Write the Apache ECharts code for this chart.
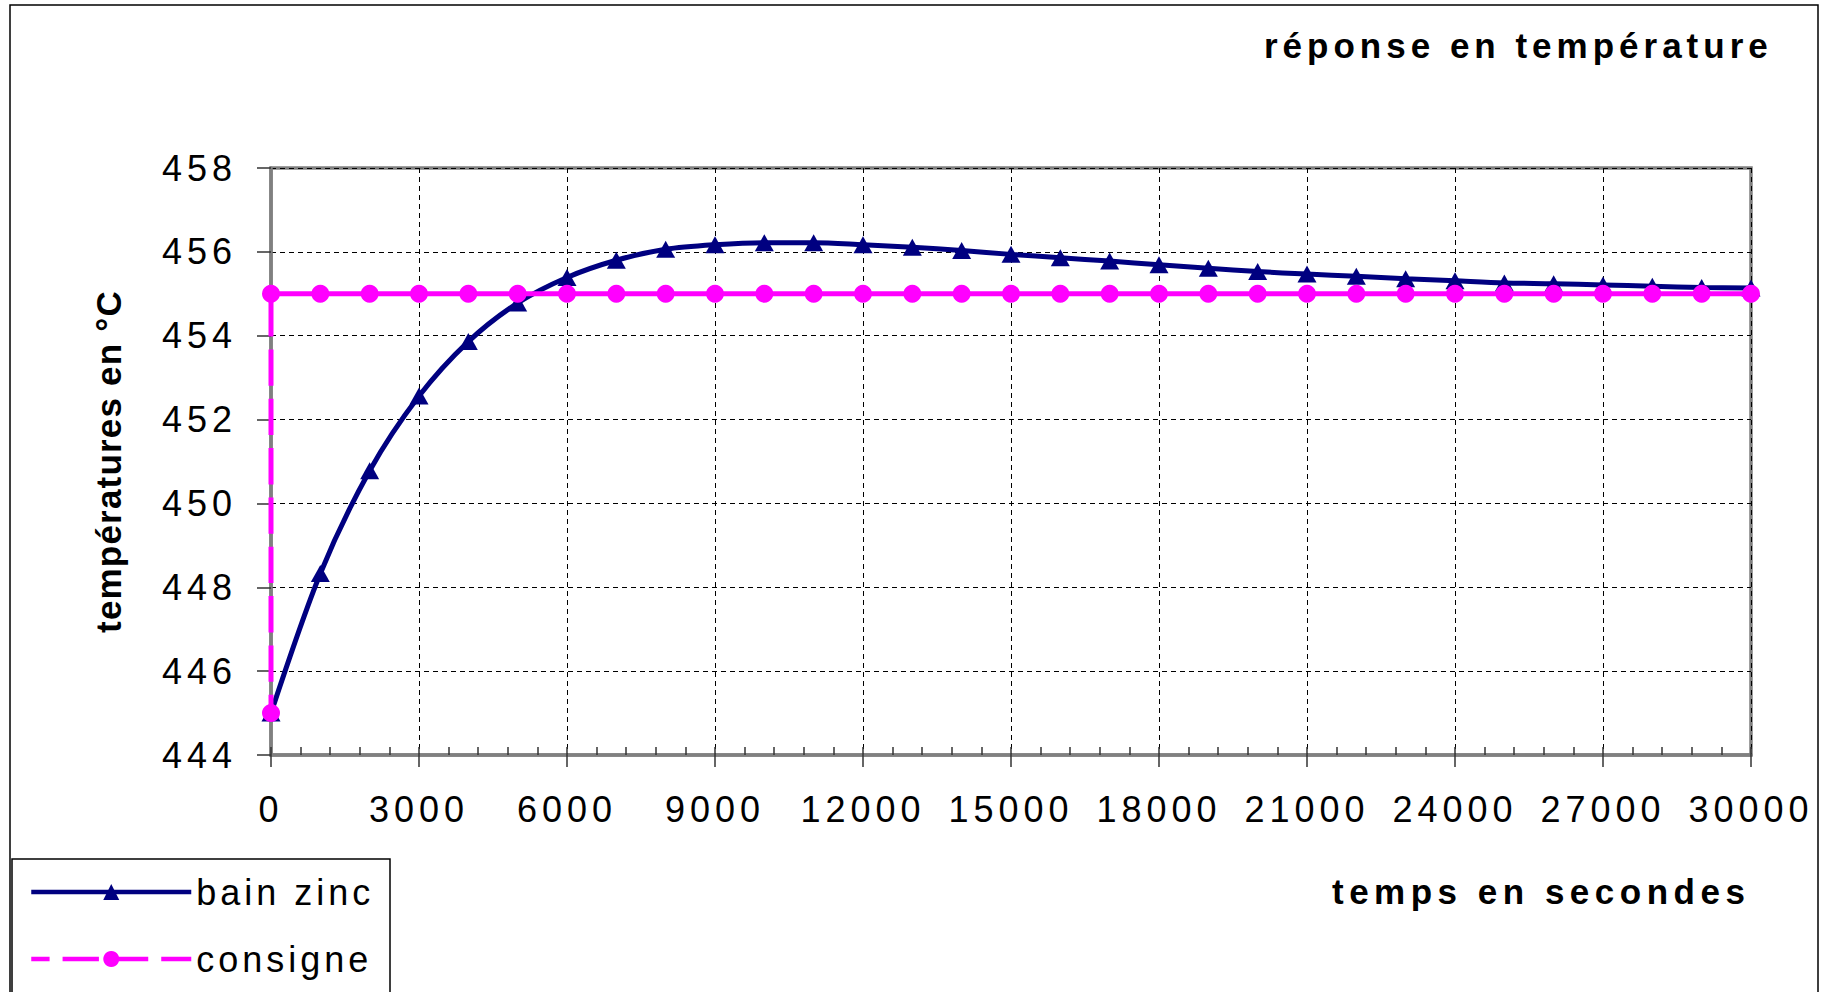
<!DOCTYPE html>
<html>
<head>
<meta charset="utf-8">
<script src="https://cdn.jsdelivr.net/npm/echarts@6/dist/echarts.min.js"></script>
<style>
html,body{margin:0;padding:0;background:#fff;}
#chart{width:1825px;height:992px;}
#chart text{letter-spacing:5px;}
</style>
</head>
<body>
<div id="chart"></div>
<script>
// ---- data ----
const chartTitle = 'réponse en température';
const xAxisTitle = 'temps en secondes';
const yAxisTitle = 'températures en °C';

const timeSeconds = [0,1000,2000,3000,4000,5000,6000,7000,8000,9000,10000,11000,12000,13000,14000,15000,
  16000,17000,18000,19000,20000,21000,22000,23000,24000,25000,26000,27000,28000,29000,30000];
const bainZinc = [445.0,448.33,450.78,452.56,453.86,454.78,455.39,455.80,456.06,456.17,456.22,456.22,456.17,
  456.11,456.03,455.94,455.86,455.78,455.69,455.61,455.53,455.47,455.42,455.36,455.31,455.26,455.24,455.21,
  455.18,455.15,455.14];

const consigneTime = [0,0,1000,2000,3000,4000,5000,6000,7000,8000,9000,10000,11000,12000,13000,14000,15000,
  16000,17000,18000,19000,20000,21000,22000,23000,24000,25000,26000,27000,28000,29000,30000];
const consigne = [445,455,455,455,455,455,455,455,455,455,455,455,455,455,455,455,455,
  455,455,455,455,455,455,455,455,455,455,455,455,455,455,455];

const seriesNames = ['bain zinc','consigne'];
const xRange = {min:0, max:30000, interval:3000};
const yRange = {min:444, max:458, interval:2};

// ---- chart ----
const FONT = '"Liberation Sans", Arial, sans-serif';
const chart = echarts.init(document.getElementById('chart'), null, {renderer:'svg'});

const option = {
  animation:false,
  backgroundColor:'#fff',
  grid:{left:271, top:168, right:74, bottom:237, show:true, borderColor:'#808080', borderWidth:3.5,
        containLabel:false, outerBoundsMode:'none'},
  legend:{
    orient:'vertical', left:29, top:874, padding:0, itemWidth:160, itemHeight:20, itemGap:31,
    data:seriesNames,
    lineStyle:{width:4.5},
    textStyle:{fontSize:36, color:'#000', fontFamily:FONT}
  },
  xAxis:[{
    type:'value', position:'bottom', min:xRange.min, max:xRange.max, interval:xRange.interval,
    axisLine:{show:true, onZero:false, lineStyle:{color:'#808080', width:3.5}},
    axisTick:{show:true, inside:true, length:8, lineStyle:{color:'#333', width:1.5}},
    minorTick:{show:true, splitNumber:5, length:8, lineStyle:{color:'#333', width:1.5}},
    axisLabel:{fontSize:36, color:'#000', fontFamily:FONT, margin:36, formatter:(v)=>String(v)},
    splitLine:{show:true, lineStyle:{color:'#000', width:1, type:[5,4]}}
  },{
    type:'value', position:'bottom', min:xRange.min, max:xRange.max, interval:xRange.interval,
    axisLine:{show:false},
    axisTick:{show:true, inside:false, length:12, lineStyle:{color:'#333', width:1.5}},
    axisLabel:{show:false},
    splitLine:{show:false}
  }],
  yAxis:{
    type:'value', min:yRange.min, max:yRange.max, interval:yRange.interval,
    name:yAxisTitle, nameLocation:'middle', nameGap:145, nameRotate:90,
    nameTextStyle:{fontSize:35, fontWeight:'bold', color:'#000', fontFamily:FONT},
    axisLine:{show:true, onZero:false, lineStyle:{color:'#808080', width:3.5}},
    axisTick:{show:true, inside:false, length:14, lineStyle:{color:'#333', width:1.5}},
    axisLabel:{fontSize:36, color:'#000', fontFamily:FONT, margin:34, formatter:(v)=>String(v)},
    splitLine:{show:true, lineStyle:{color:'#000', width:1, type:[5,4]}}
  },
  graphic:[
    {type:'rect', silent:true, z:-10, shape:{x:10, y:5, width:1808, height:1000},
     style:{fill:'none', stroke:'#000', lineWidth:1.5}},
    {type:'rect', silent:true, z:-5, shape:{x:12, y:859, width:378, height:150},
     style:{fill:'#fff', stroke:'#000', lineWidth:1.5}},
    {type:'text', silent:true, x:1264, y:45,
     style:{text:chartTitle, fontSize:35, fontWeight:'bold', fontFamily:FONT, fill:'#000', align:'left', verticalAlign:'middle'}},
    {type:'text', silent:true, x:1332, y:891,
     style:{text:xAxisTitle, fontSize:35, fontWeight:'bold', fontFamily:FONT, fill:'#000', align:'left', verticalAlign:'middle'}}
  ],
  series:[
    {
      name:seriesNames[0], type:'line', xAxisIndex:0,
      data:timeSeconds.map((t,i)=>[t, bainZinc[i]]),
      smooth:0.3, symbol:'triangle', symbolSize:[19,17], showAllSymbol:true,
      lineStyle:{color:'#000080', width:5},
      itemStyle:{color:'#000080'}, z:2
    },
    {
      name:seriesNames[1], type:'line', xAxisIndex:0,
      data:consigneTime.map((t,i)=>[t, consigne[i]]),
      smooth:false, symbol:'circle', symbolSize:18, showAllSymbol:true,
      lineStyle:{color:'#ff00ff', width:5, type:[36.33,13], dashOffset:18.17},
      itemStyle:{color:'#ff00ff'}, z:3
    }
  ]
};
chart.setOption(option);

function tuneSpacing(){
  document.querySelectorAll('#chart text').forEach(t=>{
    const s = t.textContent;
    if (s === yAxisTitle) t.style.letterSpacing = '1.2px';
    else if (s === seriesNames[0] || s === seriesNames[1]) t.style.letterSpacing = '4px';
    else if (s === xAxisTitle) t.style.letterSpacing = '5.5px';
  });
}
chart.on('finished', tuneSpacing);
setTimeout(tuneSpacing, 50);
</script>
</body>
</html>
